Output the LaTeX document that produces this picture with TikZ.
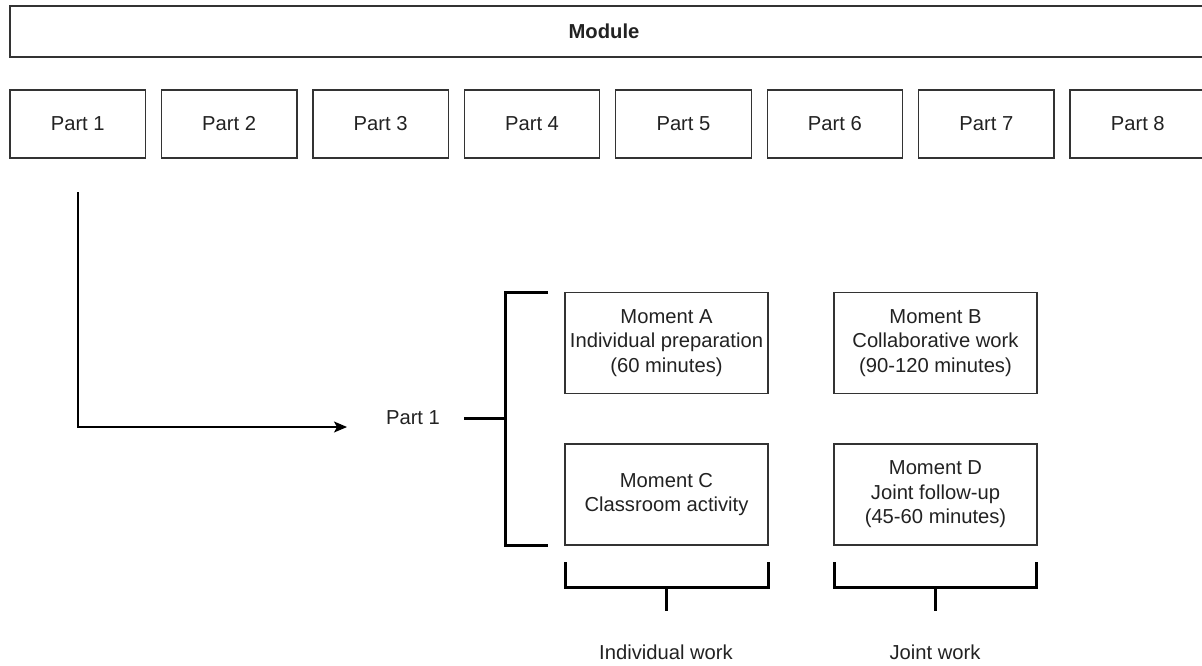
\documentclass[tikz,border=0pt]{standalone}
\usepackage{fontspec}
\setmainfont{Liberation Sans}
\usetikzlibrary{arrows.meta}
\definecolor{txt}{HTML}{222222}
\definecolor{edge}{HTML}{333333}
\tikzset{
  box/.style={draw=edge, line width=1.3pt, fill=white, inner sep=0pt, align=center,
    font=\fontsize{20.2}{24.5}\selectfont, text=txt},
  partbox/.style={box, minimum width=135.5pt, minimum height=68pt},
  momentbox/.style={box, minimum width=203pt, minimum height=101pt},
  lbl/.style={inner sep=0pt, align=center, font=\fontsize{20.2}{24.5}\selectfont, text=txt},
  bracket/.style={draw=black, line width=3pt},
  conn/.style={draw=black, line width=1.3pt, -{Stealth[length=13pt,width=11pt,inset=3pt]}},
}
\begin{document}
\begin{tikzpicture}[x=1pt,y=-1pt]
\useasboundingbox (0,0) rectangle (1202,665);
\clip (0,0) rectangle (1202,665);
\fill[white] (0,0) rectangle (1202,665);

\node[box, minimum width=1205pt, minimum height=51pt, font=\fontsize{20.2}{24.5}\selectfont\bfseries] (module) at (612.5,31.5) {\hspace*{-17pt}Module};

\foreach \i in {1,...,7}{
  \node[partbox] (p\i) at ({10+67.75+151.43*(\i-1)},124) {Part \i};
}
\node[partbox, minimum width=145.5pt] (p8) at ({10+151.43*7+72.75},124) {\hspace*{-10pt}Part 8};

\node[momentbox] (mA) at (666.5,343) {Moment A\\Individual preparation\\(60 minutes)};
\node[momentbox] (mB) at (935.5,343) {Moment B\\Collaborative work\\(90-120 minutes)};
\node[momentbox] (mC) at (666.5,494.5) {Moment C\\Classroom activity};
\node[momentbox] (mD) at (935.5,494.5) {Moment D\\Joint follow-up\\(45-60 minutes)};

\node[lbl] (part1) at (413,418) {Part 1};

\coordinate (start) at (78,192);
\coordinate (corner) at (78,427);
\coordinate (tip) at (347,427);
\draw[conn] (start) -- (corner) -- (tip);

% side bracket
\draw[bracket] (548,292) -- (505,292) -- (505,545) -- (548,545);
\draw[bracket] (464,418) -- (505,418);

% bottom brackets
\draw[bracket] (565,562) -- (565,587) -- (768,587) -- (768,562);
\draw[bracket] (666,587) -- (666,611);
\draw[bracket] (834,562) -- (834,587) -- (1036,587) -- (1036,562);
\draw[bracket] (935,587) -- (935,611);

\node[lbl] (indiv) at (666,652) {Individual work};
\node[lbl] (joint) at (935,652) {Joint work};
\end{tikzpicture}
\end{document}
